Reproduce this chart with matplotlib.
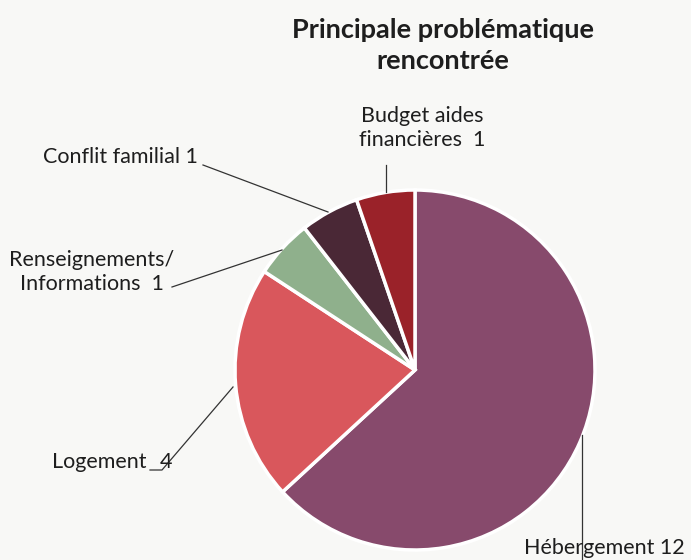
import matplotlib.pyplot as plt

categories = ["Hébergement", "Logement", "Renseignements/\nInformations", "Conflit familial", "Budget aides\nfinancières"]
values = [12, 4, 1, 1, 1]
colors = ["#874a6c", "#d9575c", "#8fb08c", "#4a2836", "#9a2229"]

plt.rcParams['font.family'] = ['Lato', 'DejaVu Sans']

fig = plt.figure(figsize=(6.91, 5.6), dpi=100)
fig.patch.set_facecolor("#f8f8f6")
ax = fig.add_axes([0, 0, 1, 1])

# pie centre and radius in pixel units (y measured from the bottom)
cx, cy, r = 415, 190, 180
wedges, _ = ax.pie(values, colors=colors, startangle=90, counterclock=False,
                   center=(cx, cy), radius=r, frame=True,
                   wedgeprops=dict(edgecolor="white", linewidth=2.5))
ax.set_xlim(0, 691)
ax.set_ylim(0, 560)
ax.set_aspect("equal")
ax.axis("off")

ax.text(443, 530, "Principale problématique", ha="center", va="center",
        fontsize=19.5, fontweight="bold", color="#1e1e1e")
ax.text(443, 499, "rencontrée", ha="center", va="center",
        fontsize=19.5, fontweight="bold", color="#1e1e1e")

lbl = dict(fontsize=15.5, color="#1e1e1e")
line = dict(color="#333333", linewidth=0.9)

# Hébergement
ax.text(685, 12, "Hébergement 12", ha="right", va="center", **lbl)
ax.plot([582, 582], [125, 0], **line)

# Logement
ax.text(52, 98, "Logement", ha="left", va="center", **lbl)
ax.text(160, 98, "4", ha="left", va="center", **lbl)
ax.plot([150, 162, 233], [90, 90, 173], **line)

# Renseignements
ax.text(92, 288, "Renseignements/\nInformations  1", ha="center", va="center",
        multialignment="center", linespacing=1.2, **lbl)
ax.plot([172, 282], [273, 310], **line)

# Conflit familial
ax.text(198, 403, "Conflit familial 1", ha="right", va="center", **lbl)
ax.plot([203, 328], [395, 348], **line)

# Budget aides financières
ax.text(422, 432, "Budget aides\nfinancières  1", ha="center", va="center",
        linespacing=1.2, **lbl)
ax.plot([386, 386], [395, 368], **line)

fig.savefig("out.png", dpi=100, facecolor=fig.get_facecolor())
